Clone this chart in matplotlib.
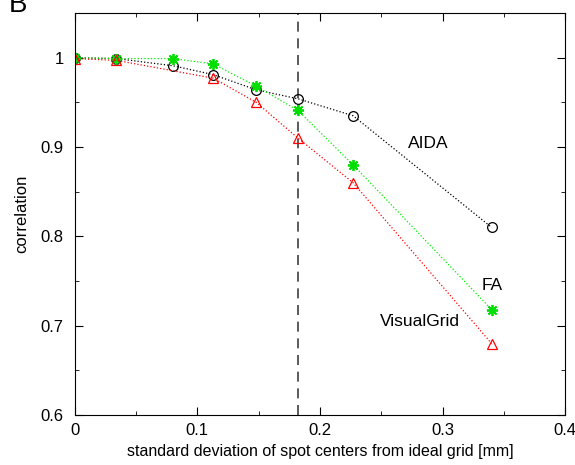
import matplotlib
matplotlib.use("Agg")
import matplotlib.pyplot as plt
from matplotlib.ticker import MultipleLocator, FuncFormatter

plt.rcParams['font.family'] = ['Liberation Sans', 'DejaVu Sans']

# data
x_all = [0.0, 0.034, 0.080, 0.113, 0.148, 0.182, 0.227, 0.340]
aida = [1.000, 0.999, 0.991, 0.981, 0.964, 0.954, 0.935, 0.810]
fa = [1.000, 0.999, 0.999, 0.993, 0.968, 0.941, 0.880, 0.718]
x_vg = [0.0, 0.034, 0.113, 0.148, 0.182, 0.227, 0.340]
visualgrid = [0.999, 0.997, 0.977, 0.950, 0.910, 0.860, 0.680]
cutoff = 0.182

fig = plt.figure(figsize=(5.75, 4.65), dpi=100)
ax = fig.add_axes([0.130, 0.1075, 0.853, 0.8645])

ax.axvline(cutoff, color='#404040', lw=1.2, ls=(0, (6, 4)))

ax.plot(x_all, aida, color='black', ls=':', lw=0.9,
        marker='o', ms=7, mfc='none', mec='black', mew=0.9)
ax.plot(x_all, fa, color='#00ee00', ls=':', lw=0.9,
        marker=(8, 2, 0), ms=8, mec='#00dd00', mew=1.3)
ax.plot(x_vg, visualgrid, color='red', ls=':', lw=0.9,
        marker='^', ms=7, mfc='none', mec='red', mew=0.9)

ax.text(0.272, 0.904, 'AIDA', fontsize=12.5, va='center', ha='left')
ax.text(0.332, 0.7445, 'FA', fontsize=12.5, va='center', ha='left')
ax.text(0.249, 0.705, 'VisualGrid', fontsize=12.5, va='center', ha='left')

ax.set_xlim(0, 0.4)
ax.set_ylim(0.6, 1.05)
ax.xaxis.set_major_locator(MultipleLocator(0.1))
ax.xaxis.set_minor_locator(MultipleLocator(0.05))
ax.yaxis.set_major_locator(MultipleLocator(0.1))
ax.yaxis.set_minor_locator(MultipleLocator(0.05))
ax.xaxis.set_major_formatter(FuncFormatter(lambda v, p: f'{v:g}'))
ax.yaxis.set_major_formatter(FuncFormatter(lambda v, p: f'{v:g}'))
ax.tick_params(which='both', direction='in', top=True, right=True, labelsize=12)
ax.tick_params(which='major', length=6)
ax.tick_params(which='minor', length=3)
ax.tick_params(axis='y', which='major', pad=8)
ax.tick_params(axis='x', which='major', pad=6)

ax.set_xlabel('standard deviation of spot centers from ideal grid [mm]', fontsize=11.5, labelpad=4)
ax.set_ylabel('correlation', fontsize=12, labelpad=8)

fig.text(0.015, 0.99, 'B', fontsize=20, va='center', ha='left')

fig.savefig('out.png', dpi=100)
